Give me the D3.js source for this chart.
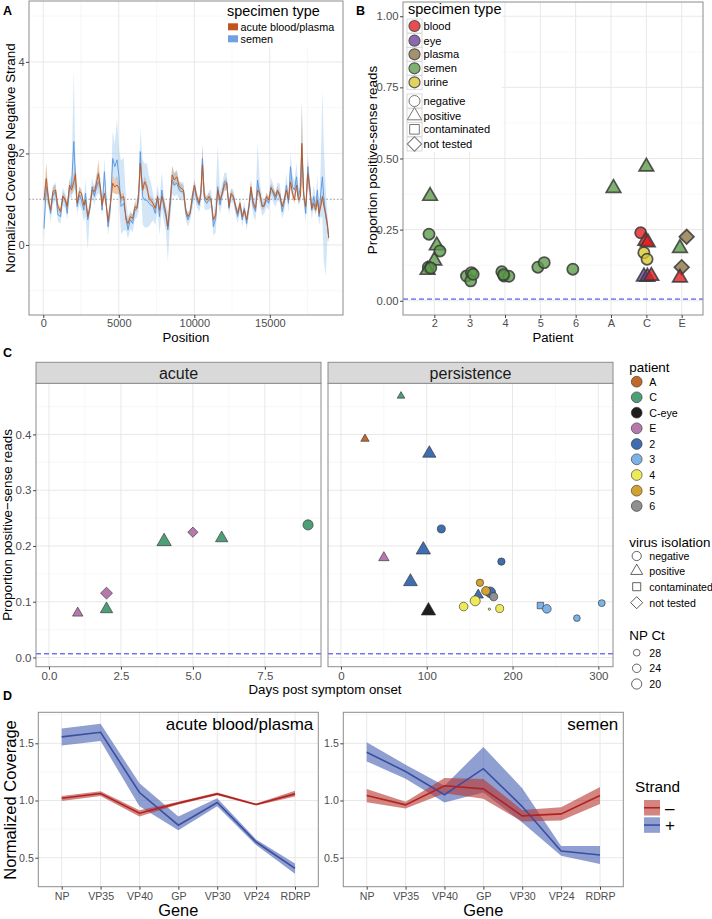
<!DOCTYPE html>
<html><head><meta charset="utf-8">
<script src="https://cdn.jsdelivr.net/npm/d3@7"></script>
<style>body{margin:0;background:#fff}svg{display:block}</style>
</head><body><svg id="c" width="712" height="919"></svg>
<script>
// ================= DATA =================
// Panel A: coverage of negative strand along genome
const posA = [44,198,374,484,638,814,968,1144,1298,1474,1584,1738,1870,2024,2134,2244,2398,2530,2684,2794,2948,3080,3234,3388,3520,3652,3784,3894,4048,4180,4290,4444,4598,4730,4884,5016,5148,5324,5478,5610,5764,5918,6072,6204,6314,6424,6578,6710,6864,6996,7128,7260,7414,7568,7700,7854,7964,8118,8250,8404,8536,8668,8844,8998,9130,9284,9438,9570,9724,9878,10010,10164,10318,10428,10538,10670,10824,10978,11110,11264,11418,11550,11704,11858,11990,12144,12298,12430,12584,12738,12870,13024,13178,13310,13464,13618,13750,13904,14058,14190,14344,14498,14630,14784,14938,15070,15224,15378,15510,15664,15818,15950,16104,16236,16368,16500,16632,16764,16896,17028,17116,17248,17380,17512,17644,17776,17908,18040,18150,18260,18370,18480,18568,18700,18810,18898];
const acuteCov = [0.98,1.45,0.91,0.76,1.17,1.2,0.84,0.73,1.07,0.98, 0.84,1.31,1.2,1.38,1.56,0.91,1.17,1.13,0.87,0.98, 0.62,0.8,1.2,1.17,1.35,1.56,1.24,0.87,1.13,0.84, 0.51,0.91,1.35,1.27,1.31,1.24,1.02,1.06,0.55,0.47, 0.62,0.58,0.84,0.8,1.13,1.78,1.2,1.38,1.27,1.02, 0.98,0.91,0.8,1.06,0.76,1.06,0.95,0.69,0.4,0.98, 1.53,1.42,1.49,1.27,1.24,1.2,0.76,0.62,0.69,1.09, 1.31,1.06,0.91,1.13,1.75,1.06,0.98,1.06,0.98,0.55, 0.65,1.2,0.98,1.13,1.31,1.35,0.84,1.13,1.06,0.84, 0.69,0.91,0.62,0.76,0.55,0.84,1.27,0.91,0.8,1.2, 1.13,0.84,0.87,1.06,0.98,1.24,1.17,1.06,1.2,1.06, 0.84,0.98,1.2,0.98,1.38,1.13,0.98,1.31,0.98,1.06, 2.22,1.09,0.84,1.56,1.27,0.8,0.91,0.76,0.98,0.69, 0.84,1.06,0.87,0.69,0.47,0.15];
const acuteSpread = [0.1,0.35,0.08,0.08,0.1,0.12,0.08,0.08,0.1,0.08, 0.08,0.12,0.1,0.2,0.2,0.08,0.1,0.08,0.08,0.08, 0.08,0.08,0.1,0.1,0.15,0.3,0.12,0.08,0.1,0.08, 0.1,0.08,0.2,0.15,0.2,0.12,0.08,0.08,0.1,0.1, 0.08,0.08,0.08,0.08,0.1,0.3,0.1,0.12,0.1,0.08, 0.08,0.08,0.08,0.08,0.08,0.1,0.08,0.1,0.1,0.08, 0.2,0.15,0.15,0.1,0.1,0.1,0.08,0.08,0.08,0.08, 0.1,0.08,0.08,0.1,0.4,0.08,0.08,0.08,0.08,0.08, 0.08,0.12,0.08,0.08,0.12,0.12,0.08,0.08,0.08,0.08, 0.08,0.08,0.08,0.08,0.08,0.08,0.15,0.08,0.08,0.1, 0.08,0.08,0.08,0.08,0.08,0.1,0.08,0.08,0.1,0.08, 0.08,0.08,0.1,0.08,0.15,0.1,0.08,0.12,0.08,0.1, 0.9,0.1,0.08,0.3,0.12,0.08,0.1,0.08,0.1,0.08, 0.1,0.12,0.1,0.1,0.1,0.08];
const semenCov = [0.36,1.27,0.98,0.69,1.09,1.17,0.66,0.62,1.06,0.95, 0.69,1.24,1.27,2.26,1.42,0.84,1.09,0.98,0.76,1.13, 0.55,0.8,1.27,1.06,1.27,1.38,1.27,0.76,1.6,0.87, 0.4,0.8,1.89,1.71,1.86,1.49,0.84,0.91,0.62,0.33, 0.55,0.47,0.76,0.8,0.98,2.04,1.06,0.98,0.98,0.91, 0.87,0.84,0.69,1.02,0.62,1.2,0.84,0.62,0.33,0.84, 1.42,1.31,1.35,1.2,1.17,1.17,0.69,0.55,0.69,0.98, 1.27,0.98,0.87,1.06,1.89,0.98,0.91,0.98,1.02,0.4, 0.58,1.27,0.87,1.17,1.38,1.38,0.8,1.09,1.06,0.8, 0.62,0.87,0.55,0.8,0.47,0.84,1.2,0.84,0.73,1.42, 1.06,0.84,0.84,0.98,0.91,1.27,1.13,0.98,1.17,1.13, 0.73,0.91,1.31,0.91,1.71,1.27,1.2,1.49,1.06,1.27, 2.15,1.06,0.69,1.71,1.2,0.76,1.06,0.84,1.2,0.62, 1.13,1.49,1.06,0.62,0.4,0.18];
const semenHi = [0.3,0.3,0.15,0.15,0.2,0.2,0.15,0.15,0.2,0.15, 0.15,0.2,0.25,1.55,0.3,0.15,0.2,0.15,0.2,0.3, 0.2,0.15,0.2,0.2,0.25,0.25,0.2,0.15,0.3,0.15, 0.2,0.2,0.6,0.5,0.9,0.6,1.0,1.0,0.4,0.3, 0.2,0.2,0.2,0.2,0.25,0.5,0.8,0.8,0.8,0.6, 0.5,0.3,0.25,0.3,0.4,0.4,0.3,0.25,0.4,0.3, 0.3,0.25,0.25,0.2,0.2,0.2,0.15,0.15,0.15,0.2, 0.2,0.15,0.15,0.2,0.35,0.2,0.15,0.2,0.2,0.2, 0.5,0.9,0.3,0.2,0.2,0.2,0.15,0.15,0.15,0.15, 0.15,0.15,0.15,0.15,0.15,0.2,0.2,0.2,0.3,0.8, 0.3,0.2,0.15,0.15,0.15,0.2,0.2,0.15,0.2,0.2, 0.15,0.2,0.25,0.2,0.3,0.25,0.2,0.3,0.2,0.3, 0.95,0.2,0.2,0.3,0.25,0.2,0.25,0.2,0.3,0.2, 0.6,1.9,1.2,0.6,0.3,0.1];
const semenLo = [0.3,0.3,0.2,0.2,0.2,0.2,0.15,0.15,0.2,0.15, 0.15,0.2,0.25,1.0,0.3,0.15,0.2,0.2,0.25,0.5, 0.66,0.15,0.2,0.2,0.2,0.25,0.2,0.15,0.3,0.15, 0.2,0.2,0.3,0.3,0.4,0.5,0.6,0.6,0.3,0.2, 0.2,0.2,0.2,0.2,0.25,0.4,0.6,0.6,0.6,0.5, 0.4,0.3,0.25,0.3,0.4,0.4,0.3,0.3,0.7,0.3, 0.3,0.25,0.25,0.2,0.2,0.2,0.15,0.15,0.15,0.2, 0.2,0.15,0.15,0.2,0.3,0.2,0.15,0.2,0.2,0.2, 0.3,0.3,0.2,0.2,0.2,0.2,0.15,0.15,0.15,0.15, 0.15,0.15,0.15,0.15,0.15,0.2,0.2,0.2,0.2,0.3, 0.2,0.2,0.15,0.15,0.15,0.2,0.2,0.15,0.2,0.2, 0.15,0.2,0.25,0.2,0.3,0.25,0.2,0.3,0.2,0.3, 0.5,0.2,0.2,0.3,0.25,0.2,0.25,0.2,0.3,0.2, 0.5,0.9,1.4,1.3,0.3,0.1];
const specimenA = ["acute blood/plasma","semen"];

// Panel B
const patientsB = ["2","3","4","5","6","A","C","E"];
const bPatient  = ["2","2","2","2","2","2","2","2","3","3","3","3","4","4","4","4","5","5","6","A","C","C","C","C","C","C","C","C","C","E","E","E","E"];
const bJitter   = [-0.12,-0.15,0.07,0.16,0,-0.17,-0.19,-0.1,-0.09,0.05,0.03,0.1,-0.09,-0.03,0.11,-0.04,-0.07,0.11,-0.08,0.07,0,-0.16,-0.03,0.04,-0.07,0.02,-0.07,0.03,0.14,0.14,-0.05,0,-0.05];
const bProp     = [0.368,0.234,0.194,0.175,0.141,0.118,0.108,0.115,0.087,0.099,0.070,0.093,0.102,0.087,0.086,0.092,0.118,0.134,0.111,0.396,0.471,0.239,0.210,0.205,0.169,0.146,0.085,0.084,0.087,0.225,0.185,0.118,0.081];
const bSpecimen = ["semen","semen","semen","semen","semen","semen","semen","semen","semen","semen","semen","semen","semen","semen","semen","semen","semen","semen","semen","semen","semen","blood","blood","blood","urine","urine","eye","eye","blood","plasma","semen","plasma","blood"];
const bIsolation= ["positive","negative","positive","negative","positive","negative","positive","negative","negative","negative","negative","negative","negative","negative","negative","negative","negative","negative","negative","positive","positive","negative","positive","positive","negative","negative","positive","positive","positive","not tested","positive","not tested","positive"];
const specimenTypes = ["blood","eye","plasma","semen","urine"];
const isolationTypes = ["negative","positive","contaminated","not tested"];

// Panel C
const cPhase   = ["acute","acute","acute","acute","acute","acute","acute","persistence","persistence","persistence","persistence","persistence","persistence","persistence","persistence","persistence","persistence","persistence","persistence","persistence","persistence","persistence","persistence","persistence","persistence","persistence","persistence","persistence","persistence"];
const cDays    = [1,2,2,4,5,6,9, 70,28,103,117,50,96,187,81,160,174,162,169,178,102,143,156.5,173,185,232.5,240,275,304];
const cProp    = [0.0796,0.0867,0.1154,0.208,0.2247,0.214,0.2378, 0.469,0.392,0.366,0.2306,0.179,0.193,0.172,0.136,0.112,0.117,0.134,0.1195,0.109,0.0837,0.0914,0.1016,0.0867,0.0878,0.0932,0.0873,0.0706,0.0975];
const cPatient = ["E","C","E","C","E","C","C", "C","A","2","2","E","2","2","2","2","2","5","5","6","C-eye","4","4","4","4","3","3","3","3"];
const cIsolation=["positive","positive","not tested","positive","not tested","positive","negative", "positive","positive","positive","negative","positive","positive","negative","positive","positive","negative","negative","negative","negative","positive","negative","negative","negative","negative","contaminated","negative","negative","negative"];
const cCt      = [25,21.5,22.5,18,25.5,21.5,20, 30,28.7,20,25,25,18,26.5,19,25,19,26.5,23.5,25,18,23.5,20.5,38,25,26.5,23.5,28,27.5];
const patientsC = ["A","C","C-eye","E","2","3","4","5","6"];
const ctLegend = [28,24,20];

// Panel D
const genes = ["NP","VP35","VP40","GP","VP30","VP24","RDRP"];
const acuteMinus   = [1.02,1.061,0.889,0.977,1.058,0.965,1.058];
const acuteMinusLo = [0.995,1.04,0.86,0.965,1.045,0.957,1.035];
const acuteMinusHi = [1.04,1.08,0.915,0.99,1.07,0.973,1.085];
const acutePlus    = [1.556,1.596,1.07,0.784,0.982,0.637,0.406];
const acutePlusLo  = [1.48,1.52,0.95,0.74,0.95,0.61,0.36];
const acutePlusHi  = [1.63,1.67,1.15,0.86,1.02,0.66,0.45];
const semenMinus   = [1.044,0.962,1.129,1.102,0.866,0.883,1.044];
const semenMinusLo = [0.985,0.93,1.064,1.015,0.816,0.825,0.97];
const semenMinusHi = [1.10,0.99,1.196,1.187,0.918,0.94,1.117];
const semenPlus    = [1.421,1.254,1.05,1.278,0.947,0.558,0.523];
const semenPlusLo  = [1.342,1.19,0.982,1.07,0.807,0.518,0.444];
const semenPlusHi  = [1.509,1.313,1.129,1.468,1.108,0.602,0.602];

// ================= STYLE =================
const FONT = '"Liberation Sans", Arial, Helvetica, sans-serif';
const TICKC = "#4D4D4D", BORDER = "#8C8C8C", GMAJ = "#E8E8E8", GMIN = "#F4F4F4";
const specColor = {blood:"#E41A1C", eye:"#6A3D9A", plasma:"#8C7340", semen:"#5A9A48", urine:"#D9C82E"};
const patColor = {"A":"#C0692B","C":"#4E9E78","C-eye":"#1E1E1E","E":"#B679AE","2":"#3F6DB0","3":"#7CB2E6","4":"#EDEA58","5":"#D3A22F","6":"#8F8F8F"};
const stripeAcute = {line:"#C0561E", fill:"#D9955A"};
const stripeSemen = {line:"#5A98E0", fill:"#8CBDED"};
const MINUS = {line:"#B2221E", fill:"#B83A36"};
const PLUS  = {line:"#3B4EA0", fill:"#4A64B4"};

const svg = d3.select("#c").attr("font-family", FONT);

function shapePath(shape, r){
  if(shape==="negative") return d3.symbol(d3.symbolCircle, Math.PI*r*r)();
  if(shape==="positive"){ const R=1.5*r; return d3.symbol(d3.symbolTriangle, R*R*3*Math.sqrt(3)/4)(); }
  if(shape==="contaminated"){ const s=1.75*r; return d3.symbol(d3.symbolSquare, s*s)(); }
  const s=1.85*r; return d3.symbol(d3.symbolSquare, s*s)();
}
function shapeRot(shape){ return shape==="not tested" ? " rotate(45)" : ""; }

function frame(g, box, xs, ys, xMaj, xMin, yMaj, yMin){
  g.append("rect").attr("x",box.x0).attr("y",box.y0).attr("width",box.x1-box.x0).attr("height",box.y1-box.y0).attr("fill","#fff");
  const gl = g.append("g");
  xMin.forEach(v=>gl.append("line").attr("x1",xs(v)).attr("x2",xs(v)).attr("y1",box.y0).attr("y2",box.y1).attr("stroke",GMIN).attr("stroke-width",0.7));
  yMin.forEach(v=>gl.append("line").attr("y1",ys(v)).attr("y2",ys(v)).attr("x1",box.x0).attr("x2",box.x1).attr("stroke",GMIN).attr("stroke-width",0.7));
  xMaj.forEach(v=>gl.append("line").attr("x1",xs(v)).attr("x2",xs(v)).attr("y1",box.y0).attr("y2",box.y1).attr("stroke",GMAJ).attr("stroke-width",1));
  yMaj.forEach(v=>gl.append("line").attr("y1",ys(v)).attr("y2",ys(v)).attr("x1",box.x0).attr("x2",box.x1).attr("stroke",GMAJ).attr("stroke-width",1));
}
function border(g, box){
  g.append("rect").attr("x",box.x0).attr("y",box.y0).attr("width",box.x1-box.x0).attr("height",box.y1-box.y0).attr("fill","none").attr("stroke",BORDER).attr("stroke-width",1);
}
function styleAxis(ag, fs){
  ag.attr("font-family",FONT).attr("font-size",fs);
  ag.select(".domain").remove();
  ag.selectAll(".tick line").attr("stroke","#444");
  ag.selectAll(".tick text").attr("fill",TICKC);
}
function xAxis(g, scale, y, vals, fmt, fs, pad){
  const a = d3.axisBottom(scale).tickSize(3).tickPadding(pad);
  if(vals) a.tickValues(vals);
  if(fmt) a.tickFormat(fmt);
  styleAxis(g.append("g").attr("transform",`translate(0,${y})`).call(a), fs);
}
function yAxis(g, scale, x, vals, fmt, fs, pad){
  const a = d3.axisLeft(scale).tickSize(3).tickPadding(pad).tickValues(vals);
  if(fmt) a.tickFormat(fmt);
  styleAxis(g.append("g").attr("transform",`translate(${x},0)`).call(a), fs);
}
function text(g, x, y, s, fs, opts={}){
  const t = g.append("text").attr("x",x).attr("y",y).text(s).attr("font-size",fs).attr("fill",opts.fill||"#000");
  if(opts.anchor) t.attr("text-anchor",opts.anchor);
  if(opts.weight) t.attr("font-weight",opts.weight);
  if(opts.rot) t.attr("transform",`rotate(-90,${x},${y})`);
  if(opts.base) t.attr("dominant-baseline",opts.base);
  return t;
}

// ================= PANEL A =================
{
  const g = svg.append("g");
  const box = {x0:29,x1:343,y0:1,y1:315};
  const xA = d3.scaleLinear([-945,19845],[box.x0,box.x1]);
  const yA = d3.scaleLinear([-1.53,5.33],[box.y1,box.y0]);
  frame(g, box, xA, yA, [0,5000,10000,15000],[2500,7500,12500,17500],[0,2,4],[-1,1,3,5]);
  const n = Math.min(posA.length, acuteCov.length, semenCov.length);
  const idx = d3.range(n);
  g.append("clipPath").attr("id","clipA").append("rect").attr("x",box.x0).attr("y",box.y0).attr("width",box.x1-box.x0).attr("height",box.y1-box.y0);
  const pg = g.append("g").attr("clip-path","url(#clipA)");
  const areaAc = d3.area().x(i=>xA(posA[i])).y0(i=>yA(acuteCov[i]-acuteSpread[i])).y1(i=>yA(acuteCov[i]+acuteSpread[i]));
  const areaSe = d3.area().x(i=>xA(posA[i])).y0(i=>yA(semenCov[i]-semenLo[i])).y1(i=>yA(semenCov[i]+semenHi[i]));
  pg.append("path").attr("d",areaAc(idx)).attr("fill",stripeAcute.fill).attr("opacity",0.5);
  pg.append("path").attr("d",areaSe(idx)).attr("fill",stripeSemen.fill).attr("opacity",0.38);
  pg.append("line").attr("x1",box.x0).attr("x2",box.x1).attr("y1",yA(1)).attr("y2",yA(1)).attr("stroke","#9A9A9A").attr("stroke-width",1.1).attr("stroke-dasharray","1.5,2");
  const lineSe = d3.line().x(i=>xA(posA[i])).y(i=>yA(semenCov[i]));
  const lineAc = d3.line().x(i=>xA(posA[i])).y(i=>yA(acuteCov[i]));
  pg.append("path").attr("d",lineSe(idx)).attr("fill","none").attr("stroke",stripeSemen.line).attr("stroke-width",0.95);
  pg.append("path").attr("d",lineAc(idx)).attr("fill","none").attr("stroke",stripeAcute.line).attr("stroke-width",0.95);
  border(g, box);
  xAxis(g, xA, box.y1, [0,5000,10000,15000], d3.format("d"), 11, 1.5);
  yAxis(g, yA, box.x0, [0,2,4], d3.format("d"), 11, 1.5);
  text(g, 186, 342, "Position", 13.2, {anchor:"middle"});
  text(g, 14.5, 158, "Normalized Coverage Negative Strand", 13.4, {anchor:"middle", rot:true});
  // legend
  const lg = g.append("g");
  lg.append("rect").attr("x",222).attr("y",2).attr("width",120).attr("height",45).attr("fill","#fff");
  text(lg, 227, 15.5, "specimen type", 14.4);
  const lcol = [stripeAcute.line, "#6FA0E0"];
  specimenA.forEach((s,i)=>{
    lg.append("rect").attr("x",228).attr("y",23.3+i*12).attr("width",10).attr("height",7).attr("fill",lcol[i]);
    text(lg, 240.5, 27+i*12, s, 10.8, {base:"central"});
  });
  text(g, 3, 15, "A", 12.5, {weight:"bold"});
}

// ================= PANEL B =================
{
  const g = svg.append("g");
  const box = {x0:403,x1:703,y0:2,y1:315};
  const xB = d3.scalePoint(patientsB,[434.3,681.7]);
  const step = xB.step();
  const yB = d3.scaleLinear([-0.05,1.05],[box.y1,box.y0]);
  const xs = v=>xB(v);
  frame(g, box, xs, yB, patientsB, [], [0,0.25,0.5,0.75,1],[0.125,0.375,0.625,0.875]);
  g.append("line").attr("x1",box.x0).attr("x2",box.x1).attr("y1",yB(0.006)).attr("y2",yB(0.006)).attr("stroke","#3030F5").attr("stroke-width",1).attr("stroke-dasharray","5,3");
  const pts = d3.range(bProp.length);
  g.append("g").selectAll("path").data(pts).join("path")
    .attr("d",i=>shapePath(bIsolation[i], 5.6))
    .attr("transform",i=>`translate(${xB(bPatient[i])+bJitter[i]*step},${yB(bProp[i])})${shapeRot(bIsolation[i])}`)
    .attr("fill",i=>specColor[bSpecimen[i]]).attr("fill-opacity",0.78)
    .attr("stroke","#3A3A3A").attr("stroke-opacity",0.85).attr("stroke-width",1.7);
  border(g, box);
  xAxis(g, xB, box.y1, null, null, 11, 1.5);
  yAxis(g, yB, box.x0, [0,0.25,0.5,0.75,1], d3.format(".2f"), 11.3, 1.5);
  text(g, 553, 342, "Patient", 13.2, {anchor:"middle"});
  text(g, 377, 160, "Proportion positive-sense reads", 13.4, {anchor:"middle", rot:true});
  // legend
  const lg = g.append("g");
  lg.append("rect").attr("x",404).attr("y",3).attr("width",98).attr("height",149).attr("fill","#fff");
  text(lg, 408, 14, "specimen type", 14.5);
  const kys = [26,40.7,54.3,68.3,82.3];
  specimenTypes.forEach((s,i)=>{
    lg.append("rect").attr("x",407).attr("y",kys[i]-7).attr("width",15).attr("height",14).attr("fill","#fff").attr("stroke","#D0D0D0").attr("stroke-width",0.8);
    lg.append("path").attr("d",shapePath("negative",5.5)).attr("transform",`translate(414.5,${kys[i]})`)
      .attr("fill",specColor[s]).attr("fill-opacity",0.78).attr("stroke","#555").attr("stroke-width",1.2);
    text(lg, 423.5, kys[i], s, 11.1, {base:"central"});
  });
  const sys = [101,115.7,129.3,144];
  isolationTypes.forEach((s,i)=>{
    lg.append("rect").attr("x",407).attr("y",sys[i]-7).attr("width",15).attr("height",14).attr("fill","#fff").attr("stroke","#D0D0D0").attr("stroke-width",0.8);
    lg.append("path").attr("d",shapePath(s,5.5)).attr("transform",`translate(414.5,${sys[i]})${shapeRot(s)}`)
      .attr("fill","#fff").attr("stroke","#777").attr("stroke-width",1);
    text(lg, 423.5, sys[i], s, 11.1, {base:"central"});
  });
  text(g, 356, 15, "B", 12.5, {weight:"bold"});
}

// ================= PANEL C =================
{
  const g = svg.append("g");
  const yC = d3.scaleLinear([-0.0165,0.4917],[666.7,383.3]);
  const facets = [
    {name:"acute", box:{x0:36,x1:321,y0:383.3,y1:666.7}, xs:d3.scaleLinear([-0.45,9.45],[36,321]), maj:[0,2.5,5,7.5], min:[1.25,3.75,6.25,8.75], fmt:d3.format(".1f")},
    {name:"persistence", box:{x0:328,x1:613,y0:383.3,y1:666.7}, xs:d3.scaleLinear([-15.1,317.1],[328,613]), maj:[0,100,200,300], min:[50,150,250], fmt:d3.format("d")}
  ];
  const rC = d3.scaleLinear([28,20],[3.35,5.1]);
  facets.forEach((f,fi)=>{
    frame(g, f.box, f.xs, yC, f.maj, f.min, [0,0.1,0.2,0.3,0.4],[0.05,0.15,0.25,0.35,0.45]);
    g.append("line").attr("x1",f.box.x0).attr("x2",f.box.x1).attr("y1",yC(0.0066)).attr("y2",yC(0.0066)).attr("stroke","#3030F5").attr("stroke-width",1).attr("stroke-dasharray","5,3");
    const idx = d3.range(cProp.length).filter(i=>cPhase[i]===f.name);
    g.append("g").selectAll("path").data(idx).join("path")
      .attr("d",i=>shapePath(cIsolation[i], rC(cCt[i])))
      .attr("transform",i=>`translate(${f.xs(cDays[i])},${yC(cProp[i])})${shapeRot(cIsolation[i])}`)
      .attr("fill",i=>patColor[cPatient[i]]).attr("stroke","#2A2A2A").attr("stroke-width",0.6);
    border(g, f.box);
    g.append("rect").attr("x",f.box.x0).attr("y",362.3).attr("width",f.box.x1-f.box.x0).attr("height",21).attr("fill","#D9D9D9").attr("stroke",BORDER).attr("stroke-width",1);
    text(g, (f.box.x0+f.box.x1)/2, 373.5, f.name, 16, {anchor:"middle", base:"central", fill:"#1A1A1A"});
    xAxis(g, f.xs, f.box.y1, f.maj, f.fmt, 11.5, 2.5);
    if(fi===0) yAxis(g, yC, f.box.x0, [0,0.1,0.2,0.3,0.4], d3.format(".1f"), 11.5, 1.5);
  });
  text(g, 325, 694, "Days post symptom onset", 13.3, {anchor:"middle"});
  text(g, 12, 525, "Proportion positive\u2212sense reads", 13.4, {anchor:"middle", rot:true});
  // legends
  const lg = g.append("g");
  text(lg, 629.3, 371.7, "patient", 13.4);
  const pys = [381.7,397.3,412.7,428.3,444,459.3,475,490.7,506];
  patientsC.forEach((p,i)=>{
    lg.append("circle").attr("cx",636.7).attr("cy",pys[i]).attr("r",5.4).attr("fill",patColor[p]).attr("stroke","#2A2A2A").attr("stroke-width",0.6);
    text(lg, 649.3, pys[i], p, 10.7, {base:"central"});
  });
  text(lg, 629.3, 546.7, "virus isolation", 13.4);
  const iys = [556,571,586.7,602.7];
  isolationTypes.forEach((s,i)=>{
    lg.append("path").attr("d",shapePath(s,4.6)).attr("transform",`translate(636.7,${iys[i]})${shapeRot(s)}`)
      .attr("fill","none").attr("stroke","#222").attr("stroke-width",0.7);
    text(lg, 649.3, iys[i], s, 10.6, {base:"central"});
  });
  text(lg, 629.3, 640, "NP Ct", 13.4);
  const nys = [652.7,668.3,684];
  ctLegend.forEach((c,i)=>{
    lg.append("circle").attr("cx",636.7).attr("cy",nys[i]).attr("r",rC(c)).attr("fill","none").attr("stroke","#222").attr("stroke-width",0.7);
    text(lg, 649.3, nys[i], String(c), 10.6, {base:"central"});
  });
  text(g, 3, 356.7, "C", 12.5, {weight:"bold"});
}

// ================= PANEL D =================
{
  const g = svg.append("g");
  const yD = d3.scaleLinear([0.2465,1.771],[886.7,712.3]);
  const facets = [
    {label:"acute blood/plasma", box:{x0:38.3,x1:318.3,y0:712.3,y1:886.7}, xs:d3.scalePoint(genes,[61.7,295]),
     minus:[acuteMinus,acuteMinusLo,acuteMinusHi], plus:[acutePlus,acutePlusLo,acutePlusHi]},
    {label:"semen", box:{x0:343.3,x1:623.3,y0:712.3,y1:886.7}, xs:d3.scalePoint(genes,[366.7,600]),
     minus:[semenMinus,semenMinusLo,semenMinusHi], plus:[semenPlus,semenPlusLo,semenPlusHi]}
  ];
  facets.forEach(f=>{
    frame(g, f.box, f.xs, yD, genes, [], [0.5,1.0,1.5],[0.75,1.25,1.75]);
    const idx = d3.range(genes.length);
    [[f.plus,PLUS],[f.minus,MINUS]].forEach(([ser,col])=>{
      const ar = d3.area().x(i=>f.xs(genes[i])).y0(i=>yD(ser[1][i])).y1(i=>yD(ser[2][i]));
      g.append("path").attr("d",ar(idx)).attr("fill",col.fill).attr("opacity",0.62);
    });
    [[f.plus,PLUS],[f.minus,MINUS]].forEach(([ser,col])=>{
      const ln = d3.line().x(i=>f.xs(genes[i])).y(i=>yD(ser[0][i]));
      g.append("path").attr("d",ln(idx)).attr("fill","none").attr("stroke",col.line).attr("stroke-width",1.6);
    });
    border(g, f.box);
    xAxis(g, f.xs, f.box.y1, null, null, 10.6, 2.5);
    yAxis(g, yD, f.box.x0, [0.5,1.0,1.5], d3.format(".1f"), 10.6, 1.5);
    text(g, f.box.x1-5, 729.5, f.label, 17, {anchor:"end"});
    text(g, (f.box.x0+f.box.x1)/2, 916, "Gene", 16.4, {anchor:"middle"});
  });
  text(g, 15.5, 800, "Normalized Coverage", 16.5, {anchor:"middle", rot:true});
  // legend
  const lg = g.append("g");
  text(lg, 635, 791.7, "Strand", 15.3);
  [["\u2013",MINUS],["+",PLUS]].forEach(([lab,col],i)=>{
    const y0 = 800+i*17.3;
    lg.append("rect").attr("x",644).attr("y",y0).attr("width",16).attr("height",15.5).attr("fill",col.fill).attr("opacity",0.62);
    lg.append("line").attr("x1",644).attr("x2",660).attr("y1",y0+7.75).attr("y2",y0+7.75).attr("stroke",col.line).attr("stroke-width",1.6);
    text(lg, 665, y0+8, lab, 17, {base:"central"});
  });
  text(g, 3, 700, "D", 12.5, {weight:"bold"});
}
</script></body></html>
